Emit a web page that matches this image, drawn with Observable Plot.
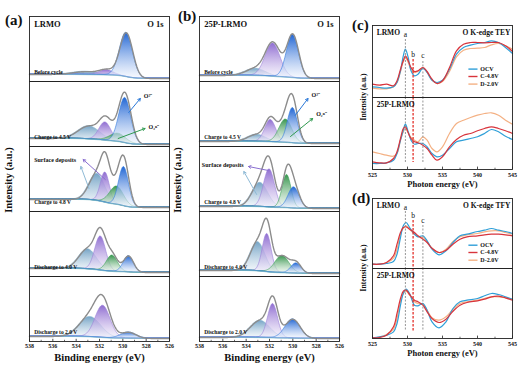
<!DOCTYPE html>
<html><head><meta charset="utf-8">
<script src="https://cdn.jsdelivr.net/npm/d3@7"></script>
<script src="https://cdn.jsdelivr.net/npm/@observablehq/plot@0.6"></script>
<style>
html,body{margin:0;padding:0;background:#fff;}
#root{position:relative;width:523px;height:370px;overflow:hidden;background:#fff;}
#root svg{position:absolute;}
.t{position:absolute;font-family:"Liberation Serif","Times New Roman",serif;font-weight:bold;color:#111;white-space:nowrap;line-height:1;}
.r{transform:translate(-50%,-50%) rotate(-90deg);}
</style></head><body><div id="root"></div>
<script>
// ---------- XPS O 1s (panels a, b) ----------
const stages = ["Before cycle","Charge to 4.5 V","Charge to 4.8 V","Discharge to 4.0 V","Discharge to 2.0 V"];
const bindingTicks = [538,536,534,532,530,528,526];
const bindingMinor = [537,535,533,531,529,527];

// panel (a) LRMO: fitted components (centre eV, height, FWHM eV) per stage
const aSurfPos = [533.2,532.9,532.2,533.0,532.8];
const aSurfAmp = [3,13,27,20,20];
const aSurfFwhm = [2.5,2.2,1.6,1.8,2.2];
const aPurpPos = [531.4,531.5,531.5,531.9,531.7];
const aPurpAmp = [5,18,30,34,32];
const aPurpFwhm = [1.4,1.2,0.9,1.1,1.5];
const aGreenPos = [null,530.4,530.5,530.9,null];
const aGreenAmp = [0,8,18,16,0];
const aGreenFwhm = [1,1.6,1.4,1.1,1];
const aBluePos = [529.7,529.8,529.9,529.5,529.5];
const aBlueAmp = [44,45,39,16,6];
const aBlueFwhm = [1.3,1.2,1.0,1.0,1.5];
const aBgHigh = [7,8,12,8,5];
const aBgLow = [3,2,4,4,3];

// panel (b) 25P-LRMO
const bSurfPos = [533.2,533.1,532.8,533.0,532.8];
const bSurfAmp = [7,7,24,29,17];
const bSurfFwhm = [2.0,1.8,1.6,1.5,2.0];
const bPurpPos = [531.7,531.9,532.0,532.2,531.7];
const bPurpAmp = [33,22,38,38,34];
const bPurpFwhm = [1.5,1.1,1.1,0.9,1.0];
const bGreenPos = [null,530.6,530.5,530.9,null];
const bGreenAmp = [0,23,33,17,0];
const bGreenFwhm = [1,1.3,0.9,1.4,1];
const bBluePos = [530.0,530.0,529.9,529.7,530.0];
const bBlueAmp = [43,35,21,10,19];
const bBlueFwhm = [1.2,1.0,1.1,1.0,1.5];
const bBgHigh = [6,5,5,6,4];
const bBgLow = [3,3,3,3,3];

// ---------- XAS O K-edge (panels c, d) ----------
const xasSeries = ["OCV","C-4.8V","D-2.0V"];
const xasTicks = [525,530,535,540,545];
const xasMinor = [527.5,532.5,537.5,542.5];
const teyEnergy = [525,526,527,528,528.5,529,529.4,529.7,530.1,530.5,531,531.5,532.2,532.8,533.5,534.2,535,536,537,538,539,540,541,542,543,544,545];
const teyLrmoOCV = [10.7,10,9.3,10.7,15,26.7,41.7,48.3,40,26.7,21.7,23.3,29.3,25,17.3,15,17.3,28.3,43.3,50,52.3,54,55,56.7,55,50,44];
const teyLrmoC48 = [13.3,12.3,13.3,11.7,16.7,28.3,36.7,41.7,36.7,30,26,26.7,30,26,18.3,14,16.7,30,46.7,53.3,55,55,54.7,55,55,51.7,46];
const teyLrmoD20 = [9.3,8.7,8.7,10.7,15,26,36,40,35,28.3,25,26,30,25,17.3,14,16,26,40.7,47.3,49,49.3,50,52.7,54,51.7,48.3];
const teyP25OCV = [6,6,6.7,9.3,16,29.3,39.3,45.3,37.7,29.3,25.3,26,26,22.7,16,12.7,14.3,21,27.7,29.3,31,32.7,36,40,37.7,33.3,30];
const teyP25C48 = [7.7,6.7,6.7,11,17.7,31,41,42.7,36.7,31,27.7,26.7,24.3,21,14.3,9.3,12.7,22.7,30,34.3,36,38.7,41,42.7,41,38.7,36];
const teyP25D20 = [17.7,16,14.3,13.3,16,29.3,37.7,41,36.7,32,29.3,27.7,32.7,29.3,21,17.7,22.7,36,46,49.3,52,54.3,56,56.7,54.3,49.3,45.3];

const tfyEnergy = [525,526,527,528,528.5,529,529.4,529.8,530.3,531,531.5,532.2,532.8,533.5,534.5,535.5,536.5,537.5,538.5,540,541,542,543,544,545];
const tfyLrmoOCV = [4.3,4.3,5,7,14.3,31,42.7,46,41,34.3,31.7,32.7,27.7,19.3,13.7,17.7,26,32.7,34.3,37,38.3,40,38.3,37,35];
const tfyLrmoC48 = [4.3,4.3,6,12.7,24.3,36,41,41.7,39.3,36,32.7,29.3,26,20.3,16,18.3,24.3,29.3,31.7,32.7,33.7,34.3,34.3,33.7,32.7];
const tfyLrmoD20 = [4.3,4.3,5.7,10.3,19.3,34.3,40.3,42.7,39.3,34.3,31.7,31,27,20.3,16,19.3,27,31.7,33.7,35,36.7,37.7,37.7,36,34.3];
const tfyP25OCV = [0.7,1.7,3.3,6.7,15,33.3,45,49.3,45,33.3,32.7,35,28.3,16.7,10.7,16.7,30,36.7,38.3,40,42.7,45,44,41.7,39.3];
const tfyP25C48 = [0.7,1,3.3,11.7,25,40,47.3,48.3,44,38.3,36.7,33.3,26.7,20,16,19.3,27.3,33.3,36,37.7,39.3,41.7,42.3,40.7,38.3];
const tfyP25D20 = [0.7,1.3,4,9.3,20,36.7,45,47.3,43.3,36.7,35,34,28.3,20.7,18.3,21.7,29.3,35,36.7,38.3,40,41.7,41.7,40.7,39.3];

const featureNames = ["a","b","c"];
const featureEnergy = [529.7,530.8,532.2];

// ---------- helpers ----------
const FONT = "'Liberation Serif','Times New Roman',serif";
const INK = "#111";
const root = document.getElementById("root");

function place(el, left, top) {
  el.style.left = left + "px"; el.style.top = top + "px";
  el.style.background = "transparent";
  root.appendChild(el);
}
function label(text, x, y, size, rotate) {
  const d = document.createElement("div");
  d.className = "t" + (rotate ? " r" : "");
  d.textContent = text;
  d.style.left = x + "px"; d.style.top = y + "px"; d.style.fontSize = size + "px";
  root.appendChild(d);
}

const compStyle = {
  surf: {top:"#6e9fc3", bottom:"#f2f7fb", stroke:"#86b6d2"},
  purp: {top:"#8a66cf", bottom:"#f3effb", stroke:"#9b82d8"},
  green:{top:"#2c8f44", bottom:"#f0f8f1", stroke:"#3ea35a"},
  blue: {top:"#165ed2", bottom:"#f2f6fe", stroke:"#2f78de"}
};

function xpsData(comps, bgHigh, bgLow) {
  const grid = d3.range(526, 538.001, 0.05);
  const rows = [], env = [], bg = [];
  stages.forEach((s, i) => {
    const cs = comps.filter(c => c.pos[i] != null);
    const g = cs.map(c => {
      const sd = c.fwhm[i] / 2.3548;
      return grid.map(e => c.amp[i] * Math.exp(-((e - c.pos[i]) ** 2) / (2 * sd * sd)));
    });
    const tot = grid.map((_, k) => d3.sum(g, arr => arr[k]));
    const cum = Array.from(d3.cumsum(tot));
    const T = cum[cum.length - 1];
    grid.forEach((e, k) => {
      const b = bgLow[i] + (bgHigh[i] - bgLow[i]) * cum[k] / T;
      bg.push({stage: s, e, v: b});
      env.push({stage: s, e, v: b + tot[k]});
      cs.forEach((c, j) => rows.push({stage: s, comp: c.key, e, base: b, top: b + g[j][k]}));
    });
  });
  return {rows, env, bg};
}

function xpsPlot(prefix, left, sample, comps, bgHigh, bgLow, arrows, notes) {
  const {rows, env, bg} = xpsData(comps, bgHigh, bgLow);
  const last = stages[stages.length - 1];
  const svg = Plot.plot({
    width: 175, height: 370, marginLeft: 29, marginRight: 6, marginTop: 16, marginBottom: 29,
    style: {fontFamily: FONT, fontWeight: "bold", background: "transparent", color: INK, overflow: "visible"},
    x: {domain: [538, 526]},
    y: {domain: [0, 65], axis: null},
    fy: {domain: stages, padding: 0, axis: null},
    marks: [
      ...comps.map(c => Plot.areaY(rows.filter(r => r.comp === c.key), {
        x: "e", y1: "base", y2: "top", fy: "stage",
        fill: `url(#${prefix}-${c.key})`, stroke: compStyle[c.key].stroke, strokeWidth: 0.6
      })),
      Plot.line(bg, {x: "e", y: "v", fy: "stage", stroke: "#80c0c6", strokeWidth: 0.7}),
      Plot.line(env, {x: "e", y: "v", fy: "stage", stroke: "#8c8c8c", strokeWidth: 1.4}),
      Plot.frame({stroke: "#222", strokeWidth: 0.9}),
      Plot.ruleX(bindingTicks, {x: d => d, fy: () => last, y1: 0, y2: 2.2, stroke: "#222", strokeWidth: 0.8}),
      Plot.ruleX(bindingMinor, {x: d => d, fy: () => last, y1: 0, y2: 1.2, stroke: "#222", strokeWidth: 0.7}),
      Plot.text(stages, {fy: d => d, x: 537.6, y: 9, text: d => d, textAnchor: "start", fontSize: 5.5, fill: INK}),
      Plot.text([sample], {fy: () => stages[0], x: 537.6, y: 57, text: d => d, textAnchor: "start", fontSize: 8.5, fill: INK}),
      Plot.text(["O 1s"], {fy: () => stages[0], x: 526.5, y: 57, text: d => d, textAnchor: "end", fontSize: 8.5, fill: INK}),
      ...arrows.map(a => Plot.arrow([a], {x1: "x1", y1: "y1", x2: "x2", y2: "y2", fy: "stage",
        stroke: a.color, strokeWidth: 1, headLength: 4})),
      Plot.text(notes, {x: "x", y: "y", fy: "stage", text: "text", textAnchor: "start", fontSize: 6, fill: INK}),
      Plot.axisX({ticks: bindingTicks, tickSize: 0, tickPadding: 2, fontSize: 6, label: null}),
      Plot.axisX({ticks: [], tickSize: 0, label: "Binding energy (eV)", labelAnchor: "center",
        labelArrow: "none", labelOffset: 19, fontSize: 10.5})
    ]
  });
  const defs = d3.select(svg).insert("defs", ":first-child");
  Object.entries(compStyle).forEach(([k, s]) => {
    const lg = defs.append("linearGradient").attr("id", `${prefix}-${k}`)
      .attr("x1", 0).attr("y1", 0).attr("x2", 0).attr("y2", 1);
    lg.append("stop").attr("offset", "0%").attr("stop-color", s.top).attr("stop-opacity", 0.95);
    lg.append("stop").attr("offset", "100%").attr("stop-color", s.bottom).attr("stop-opacity", 0.6);
  });
  place(svg, left, 0);
}

const compsA = [
  {key: "surf", pos: aSurfPos, amp: aSurfAmp, fwhm: aSurfFwhm},
  {key: "purp", pos: aPurpPos, amp: aPurpAmp, fwhm: aPurpFwhm},
  {key: "green", pos: aGreenPos, amp: aGreenAmp, fwhm: aGreenFwhm},
  {key: "blue", pos: aBluePos, amp: aBlueAmp, fwhm: aBlueFwhm}
];
const compsB = [
  {key: "surf", pos: bSurfPos, amp: bSurfAmp, fwhm: bSurfFwhm},
  {key: "purp", pos: bPurpPos, amp: bPurpAmp, fwhm: bPurpFwhm},
  {key: "green", pos: bGreenPos, amp: bGreenAmp, fwhm: bGreenFwhm},
  {key: "blue", pos: bBluePos, amp: bBlueAmp, fwhm: bBlueFwhm}
];

xpsPlot("ga", 0, "LRMO", compsA, aBgHigh, aBgLow, [
  {stage: stages[1], x1: 529.5, y1: 34, x2: 528.5, y2: 48, color: "#2a78d8"},
  {stage: stages[1], x1: 530.4, y1: 8, x2: 528.1, y2: 18, color: "#2f9a4f"},
  {stage: stages[2], x1: 531.5, y1: 32, x2: 533.4, y2: 52, color: "#8a6fd0"},
  {stage: stages[2], x1: 532.9, y1: 23, x2: 533.6, y2: 45, color: "#8fbad6"}
], [
  {stage: stages[1], x: 528.2, y: 50, text: "O²⁻"},
  {stage: stages[1], x: 527.8, y: 19, text: "O₂ⁿ⁻"},
  {stage: stages[2], x: 537.6, y: 51, text: "Surface deposits"}
]);

xpsPlot("gb", 170, "25P-LRMO", compsB, bBgHigh, bBgLow, [
  {stage: stages[1], x1: 529.8, y1: 31, x2: 528.7, y2: 48, color: "#2a78d8"},
  {stage: stages[1], x1: 530.2, y1: 10, x2: 528.3, y2: 28, color: "#2f9a4f"},
  {stage: stages[2], x1: 532.1, y1: 41, x2: 533.8, y2: 45, color: "#8a6fd0"},
  {stage: stages[2], x1: 533.1, y1: 17, x2: 534.2, y2: 40, color: "#8fbad6"}
], [
  {stage: stages[1], x: 528.4, y: 51, text: "O²⁻"},
  {stage: stages[1], x: 528.0, y: 32, text: "O₂ⁿ⁻"},
  {stage: stages[2], x: 537.8, y: 46, text: "Surface deposits"}
]);

// ---------- XAS ----------
const xasColors = ["#2f9fd8", "#d8343c", "#f4b184"];
const samples = ["LRMO", "25P-LRMO"];

function xasPlot(top, height, mTop, mBottom, yMax, grid, vals, title, featY, dashTop, legendY) {
  const rows = [];
  const drawOrder = [2, 0, 1];
  samples.forEach((s, si) => drawOrder.forEach(k => grid.forEach((e, j) =>
    rows.push({sample: s, series: xasSeries[k], e, v: vals[si][k][j]}))));
  const dashes = [];
  featureEnergy.forEach((e, i) => {
    dashes.push({sample: samples[0], e, y1: dashTop[i], y2: 0, red: i === 1});
    dashes.push({sample: samples[1], e, y1: yMax, y2: 7, red: i === 1});
  });
  const letters = featureNames.map((n, i) => ({sample: samples[0], e: featureEnergy[i], y: featY[i], n}));
  const legend = xasSeries.map((s, i) => ({sample: samples[0], series: s, y: legendY[i]}));
  const s1 = samples[1];
  const svg = Plot.plot({
    width: 183, height, marginLeft: 32, marginRight: 11, marginTop: mTop, marginBottom: mBottom,
    style: {fontFamily: FONT, fontWeight: "bold", background: "transparent", color: INK, overflow: "visible"},
    x: {domain: [525, 545]},
    y: {domain: [0, yMax], axis: null},
    fy: {domain: samples, padding: 0, axis: null},
    color: {domain: xasSeries, range: xasColors},
    marks: [
      Plot.line(rows, {x: "e", y: "v", z: "series", stroke: "series", fy: "sample", curve: "catmull-rom", strokeWidth: 1.2}),
      Plot.ruleX(dashes.filter(d => !d.red), {x: "e", y1: "y1", y2: "y2", fy: "sample", stroke: "#8a8a8a", strokeWidth: 0.9, strokeDasharray: "2,1.5"}),
      Plot.ruleX(dashes.filter(d => d.red), {x: "e", y1: "y1", y2: "y2", fy: "sample", stroke: "#e3302a", strokeWidth: 1.3, strokeDasharray: "2.5,1.5"}),
      Plot.text(letters, {x: "e", y: "y", fy: "sample", text: "n", fontSize: 7.5, fontWeight: "normal", fill: INK}),
      Plot.text([samples[0]], {fy: () => samples[0], x: 525.6, y: yMax - 7, text: d => d, textAnchor: "start", fontSize: 7.5, fill: INK}),
      Plot.text([title], {fy: () => samples[0], x: 544.7, y: yMax - 7, text: d => d, textAnchor: "end", fontSize: 7.5, fill: INK}),
      Plot.text([samples[1]], {fy: () => samples[1], x: 525.6, y: yMax - 7, text: d => d, textAnchor: "start", fontSize: 7.5, fill: INK}),
      Plot.link(legend, {x1: 538.7, x2: 540.0, y1: "y", y2: "y", fy: "sample", stroke: "series", strokeWidth: 1.4}),
      Plot.text(legend, {x: 540.4, y: "y", fy: "sample", text: "series", textAnchor: "start", fontSize: 6, fill: INK}),
      Plot.frame({stroke: "#222", strokeWidth: 0.9}),
      Plot.ruleX(xasTicks, {x: d => d, fy: () => s1, y1: 0, y2: 2.4, stroke: "#222", strokeWidth: 0.8}),
      Plot.ruleX(xasMinor, {x: d => d, fy: () => s1, y1: 0, y2: 1.3, stroke: "#222", strokeWidth: 0.7}),
      Plot.axisX({ticks: xasTicks, tickSize: 0, tickPadding: 3, fontSize: 6, label: null}),
      Plot.axisX({ticks: [], tickSize: 0, label: "Photon energy (eV)", labelAnchor: "center",
        labelArrow: "none", labelOffset: 17, fontSize: 8.5})
    ]
  });
  place(svg, 340, top);
}

xasPlot(0, 192, 24, 23, 72, teyEnergy,
  [[teyLrmoOCV, teyLrmoC48, teyLrmoD20], [teyP25OCV, teyP25C48, teyP25D20]],
  "O K-edge TEY", [63, 43, 41.5], [58, 38, 36], [28.4, 21, 13.4]);
xasPlot(185, 185, 13, 32, 70, tfyEnergy,
  [[tfyLrmoOCV, tfyLrmoC48, tfyLrmoD20], [tfyP25OCV, tfyP25C48, tfyP25D20]],
  "O K-edge TFY", [61, 52.7, 47.7], [57, 48, 43], [23.3, 16, 8.3]);

// ---------- panel letters & y titles ----------
label("(a)", 5, 13, 15);
label("(b)", 178, 9, 15);
label("(c)", 352, 18, 15);
label("(d)", 352, 191, 15);
label("Intensity (a.u.)", 9, 180, 10.5, true);
label("Intensity (a.u.)", 178, 180, 10.5, true);
label("Intensity (a.u.)", 364, 97, 7.5, true);
label("Intensity (a.u.)", 364, 268, 7.5, true);
</script></body></html>
